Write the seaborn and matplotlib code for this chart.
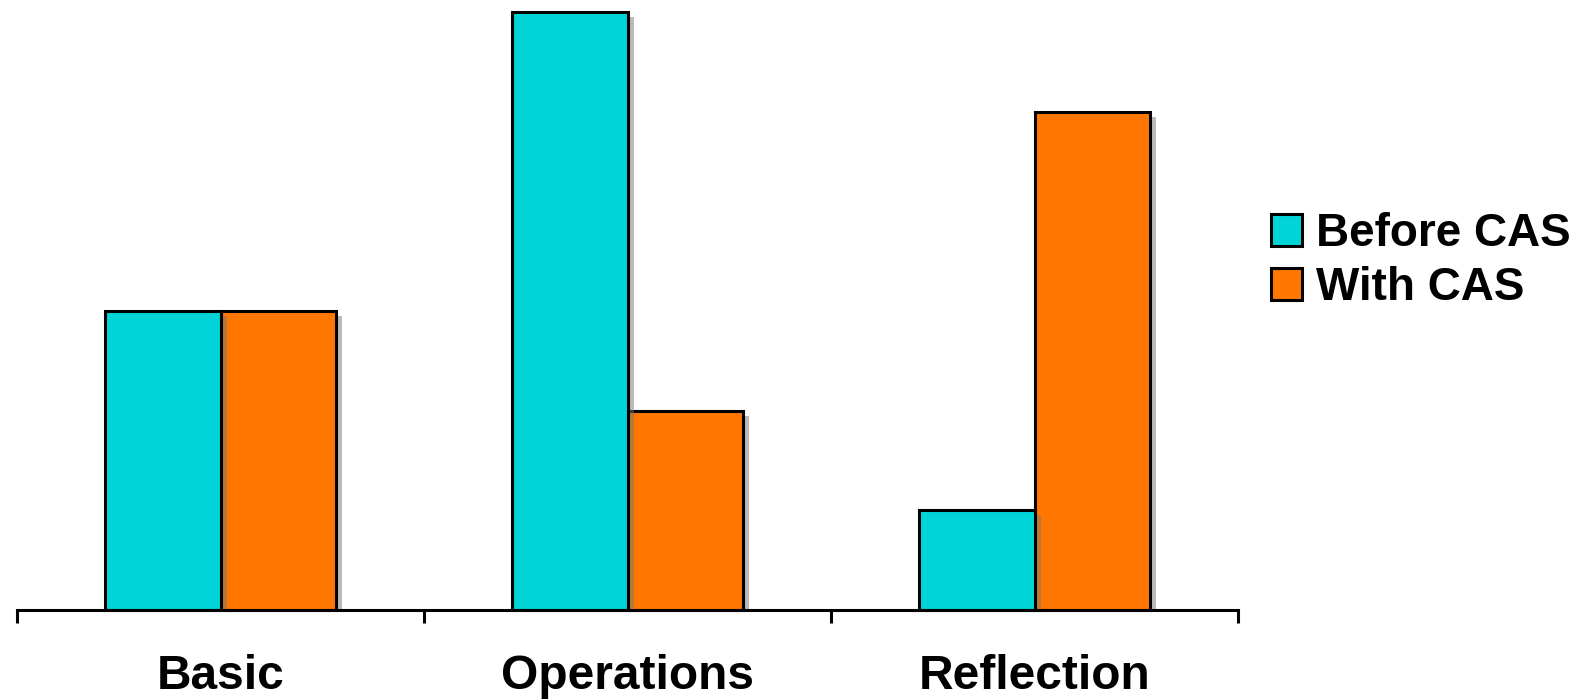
import matplotlib
matplotlib.use("Agg")
import matplotlib.pyplot as plt
import matplotlib.transforms as mtransforms
from matplotlib.patches import Rectangle
import seaborn as sns
import pandas as pd

categories = ["Basic", "Operations", "Reflection"]
before_cas = [3, 6, 1]
with_cas = [3, 2, 5]
series_names = ["Before CAS", "With CAS"]
colors = ["#00D4D6", "#FF7700"]

df = pd.DataFrame({
    "category": categories * 2,
    "value": before_cas + with_cas,
    "series": [series_names[0]] * 3 + [series_names[1]] * 3,
})

sns.set_theme(style="white")
plt.rcParams["font.family"] = ["Liberation Sans", "DejaVu Sans"]
plt.rcParams["text.color"] = "black"

fig = plt.figure(figsize=(15.88, 7.0), dpi=100)
ax = fig.add_axes([17 / 1588, 90 / 700, (1238 - 17) / 1588, (610 - 12) / 700])

sns.barplot(data=df, x="category", y="value", hue="series", order=categories,
            hue_order=series_names, palette=colors, width=0.57,
            edgecolor="black", linewidth=2.2, saturation=1, ax=ax, legend=True)

ax.set_xlim(-0.5, 2.5)
ax.set_ylim(0, 6)

shadow_tr = ax.transData + mtransforms.ScaledTranslation(6 / 100, -5 / 100, fig.dpi_scale_trans)
zorders = {0: (3, 4), 1: (1, 2)}
for i, cont in enumerate(ax.containers):
    zs, zb = zorders[i]
    for p in cont.patches:
        p.set_zorder(zb)
        p.set_clip_on(False)
        sh = Rectangle((p.get_x(), p.get_y()), p.get_width(), p.get_height(),
                       transform=shadow_tr, facecolor="#777777", alpha=0.5,
                       edgecolor="none", zorder=zs)
        ax.add_patch(sh)
        sh.set_clip_path(ax.patch)

for s in ["top", "right", "left"]:
    ax.spines[s].set_visible(False)
ax.spines["bottom"].set_linewidth(2.2)
ax.spines["bottom"].set_color("black")
ax.spines["bottom"].set_zorder(6)

ax.set_yticks([])
ax.set_xlabel("")
ax.set_ylabel("")
ax.set_xticks([0, 1, 2])
ax.set_xticklabels(categories, fontsize=34.5, fontweight="bold", color="black")
ax.set_xticks([-0.5, 0.5, 1.5, 2.5], minor=True)
ax.tick_params(axis="x", which="major", length=0, pad=31.5, labelcolor="black")
ax.tick_params(axis="x", which="minor", bottom=True, length=9.5, width=2.2, color="black", direction="out")

handles, labels = ax.get_legend_handles_labels()
ax.get_legend().remove()
leg = fig.legend(handles, labels, loc="center left",
                 bbox_to_anchor=(1271 / 1588, 1 - 261 / 700),
                 frameon=False, prop={"size": 33, "weight": "bold"},
                 handlelength=0.68, handleheight=0.68, handletextpad=0.3,
                 labelspacing=0.22, borderpad=0, borderaxespad=0)
for t in leg.get_texts():
    t.set_color("black")

fig.savefig("out.png", dpi=100)
